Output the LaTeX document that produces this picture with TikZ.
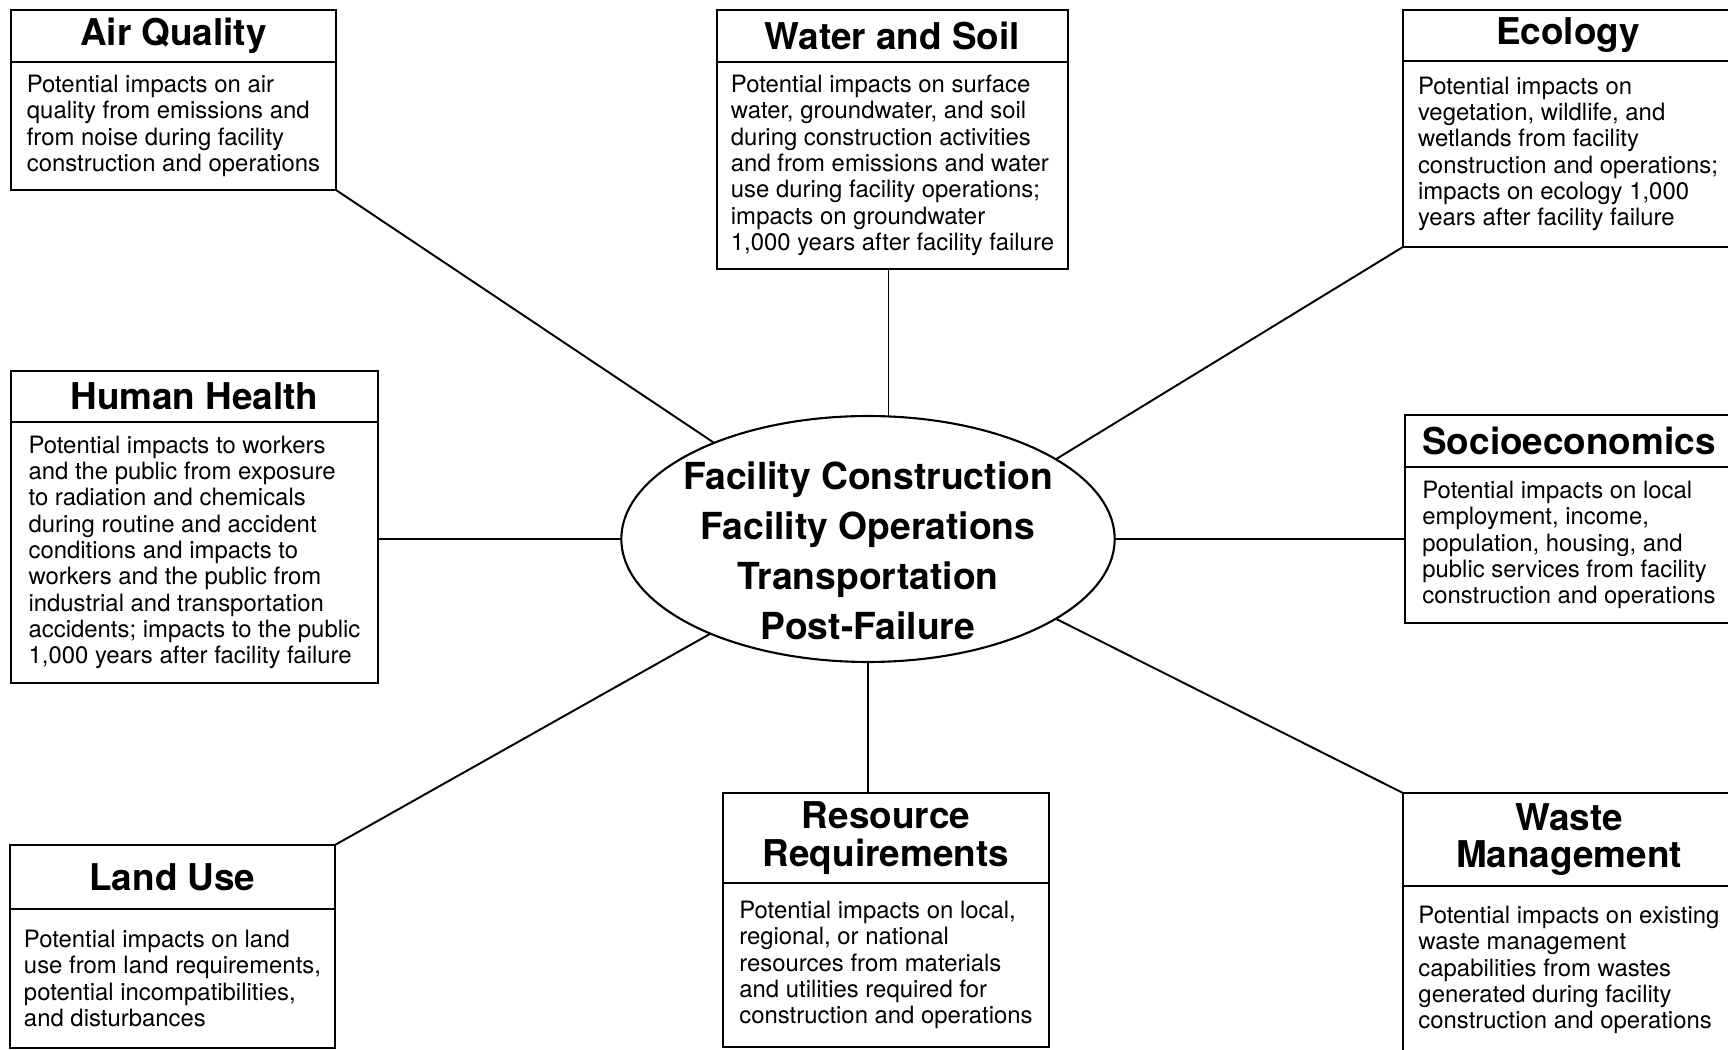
\documentclass[tikz,border=0pt]{standalone}
\usepackage{fontspec}
\setmainfont{TeX Gyre Heros}
\usetikzlibrary{positioning,shapes.geometric}

\begin{document}
\begin{tikzpicture}[x=0.02cm,y=-0.02cm,
    box/.style={draw,rectangle,line width=1.2pt,outer sep=0pt},
    head/.style={box,anchor=north west,inner sep=0pt,align=center,
      font=\bfseries\fontsize{21}{21.5}\selectfont},
    body/.style={box,below=0pt of #1,inner xsep=0pt,inner ysep=0.2cm,align=left,
      font=\fontsize{13.6}{15}\selectfont},
    hub/.style={draw,ellipse,line width=1.2pt,outer sep=0pt,inner xsep=-6pt,inner ysep=-8pt,
      minimum width=9.84cm,minimum height=4.92cm,align=center,text height=114.9pt,text depth=0pt,
      font=\bfseries\fontsize{21.2}{28.6}\selectfont},
    link/.style={line width=1.1pt}]
  \clip (0,0) rectangle (1728,1050);

  % centre
  \node[hub] (ctr) at (868,539) {Facility Construction\\Facility Operations\\Transportation\\Post-Failure};

  % top row
  \node[head,minimum width=6.5cm,minimum height=1.04cm] (aq-h) at (11,10) {Air Quality};
  \node[body=aq-h,minimum width=6.5cm,minimum height=2.56cm] (aq) {Potential impacts on air\\quality from emissions and\\from noise during facility\\construction and operations};

  \node[head,minimum width=7.02cm,minimum height=1.04cm] (ws-h) at (717,10) {Water and Soil};
  \node[body=ws-h,minimum width=7.02cm,minimum height=4.14cm] (ws) {Potential impacts on surface\\water, groundwater, and soil\\during construction activities\\and from emissions and water\\use during facility operations;\\impacts on groundwater\\1,000 years after facility failure};

  \node[head,minimum width=6.6cm,minimum height=1.02cm] (eco-h) at (1403,10) {Ecology};
  \node[body=eco-h,minimum width=6.6cm,minimum height=3.72cm] (eco) {Potential impacts on\\vegetation, wildlife, and\\wetlands from facility\\construction and operations;\\impacts on ecology 1,000\\years after facility failure};

  % middle row
  \node[head,minimum width=7.34cm,minimum height=1.02cm] (hh-h) at (11,371) {Human Health};
  \node[body=hh-h,minimum width=7.34cm,minimum height=5.22cm] (hh) {Potential impacts to workers\\and the public from exposure\\to radiation and chemicals\\during routine and accident\\conditions and impacts to\\workers and the public from\\industrial and transportation\\accidents; impacts to the public\\1,000 years after facility failure};

  \node[head,minimum width=6.56cm,minimum height=1.04cm] (se-h) at (1405,415) {Socioeconomics};
  \node[body=se-h,minimum width=6.56cm,minimum height=3.12cm] (se) {Potential impacts on local\\employment, income,\\population, housing, and\\public services from facility\\construction and operations};

  % bottom row
  \node[head,minimum width=6.5cm,minimum height=1.28cm] (lu-h) at (10,845) {Land Use};
  \node[body=lu-h,minimum width=6.5cm,minimum height=2.78cm] (lu) {Potential impacts on land\\use from land requirements,\\potential incompatibilities,\\and disturbances};

  \node[head,minimum width=6.52cm,minimum height=1.8cm] (rr-h) at (723,793) {Resource\\Requirements};
  \node[body=rr-h,minimum width=6.52cm,minimum height=3.28cm] (rr) {Potential impacts on local,\\regional, or national\\resources from materials\\and utilities required for\\construction and operations};

  \node[head,minimum width=6.64cm,minimum height=1.86cm] (wm-h) at (1403,793) {Waste\\Management};
  \node[body=wm-h,minimum width=6.64cm,minimum height=3.36cm] (wm) {Potential impacts on existing\\waste management\\capabilities from wastes\\generated during facility\\construction and operations};

  % spokes
  \coordinate (ws-foot) at ([xshift=-0.08cm]ws.south);
  \draw[link] (aq.south east) -- (ctr.148);
  \draw[link] (ws-foot) -- (ws-foot |- ctr.north);
  \draw[link] (eco.south west) -- (ctr.23);
  \draw[link] (hh.east |- ctr.west) -- (ctr.west);
  \draw[link] (ctr.east) -- (ctr.east -| se.west);
  \draw[link] (lu-h.north east) -- (ctr.211);
  \draw[link] (ctr.south) -- (ctr.south |- rr-h.north);
  \draw[link] (wm-h.north west) -- (ctr.-23);
\end{tikzpicture}
\end{document}
